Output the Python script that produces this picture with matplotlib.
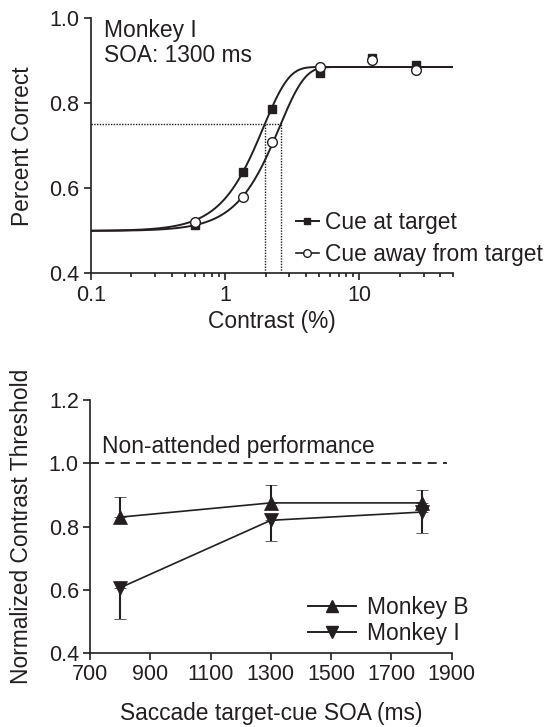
import numpy as np
import matplotlib
matplotlib.use("Agg")
import matplotlib.pyplot as plt

plt.rcParams['font.family'] = ['Liberation Sans', 'DejaVu Sans']
INK = '#231f20'
plt.rcParams['text.color'] = INK
plt.rcParams['axes.labelcolor'] = INK
plt.rcParams['xtick.color'] = INK
plt.rcParams['ytick.color'] = INK
plt.rcParams['axes.edgecolor'] = INK

# ---- top panel data ----
contrast = [0.60, 1.36, 2.24, 5.05, 12.5, 26.4]
pc_at_target = [0.514, 0.639, 0.787, 0.871, 0.905, 0.890]
pc_away = [0.522, 0.579, 0.709, 0.885, 0.902, 0.879]
threshold_at = 1.97
threshold_away = 2.59
upper_asym = 0.885
chance = 0.5
criterion = 0.75
slope = 2.3

# ---- bottom panel data ----
soa = [800, 1300, 1800]
monkeyB = [0.830, 0.875, 0.875]
monkeyB_err = [0.065, 0.057, 0.041]
monkeyI = [0.607, 0.820, 0.846]
monkeyI_err = [0.098, 0.065, 0.067]

fig = plt.figure(figsize=(5.45, 7.27), dpi=100)

FS = 16.4
TFS = 15.5

# ---------- top ----------
ax1 = fig.add_axes([0.1664, 0.6238, 0.6655, 0.3514])

def weib(c, t):
    frac = (criterion - chance) / (upper_asym - chance)
    k = -np.log(1 - frac)
    alpha = t / k ** (1 / slope)
    return chance + (upper_asym - chance) * (1 - np.exp(-(c / alpha) ** slope))

cc = np.logspace(-1, np.log10(50), 400)
ax1.plot(cc, weib(cc, threshold_at), color=INK, lw=1.4)
ax1.plot(cc, weib(cc, threshold_away), color=INK, lw=1.4)

dot = (0, (1, 1))
ax1.plot([0.1, threshold_away], [criterion, criterion], color=INK, lw=1, ls=dot)
ax1.plot([threshold_at, threshold_at], [0.4, criterion], color=INK, lw=1, ls=dot)
ax1.plot([threshold_away, threshold_away], [0.4, criterion], color=INK, lw=1, ls=dot)

ax1.plot(contrast, pc_at_target, ls='none', marker='s', ms=6, color=INK, zorder=4)
ax1.plot(contrast, pc_away, ls='none', marker='o', ms=7, mfc='white', mec=INK, mew=1, zorder=5)

h1, = ax1.plot([], [], '-', marker='s', ms=5, color=INK, lw=1.4)
h2, = ax1.plot([], [], '-', marker='o', ms=5.5, mfc='white', mec=INK, color=INK, lw=1.2)
ax1.legend([h1, h2], ['Cue at target', 'Cue away from target'], loc='center left',
           bbox_to_anchor=(0.565, 0.137), frameon=False, fontsize=FS,
           handlelength=1.02, handletextpad=0.26, borderpad=0, borderaxespad=0,
           labelspacing=0.38)

ax1.set_xscale('log')
ax1.set_xlim(0.1, 50)
ax1.set_ylim(0.4, 1.0)
ax1.set_yticks([0.4, 0.6, 0.8, 1.0])
ax1.set_yticklabels(['0.4', '0.6', '0.8', '1.0'])
ax1.set_xticks([0.1, 1, 10])
ax1.set_xticklabels(['0.1', '1', '10'])
ax1.spines['top'].set_visible(False)
ax1.spines['right'].set_visible(False)
for s in ax1.spines.values():
    s.set_linewidth(1.2)
ax1.tick_params(axis='both', which='major', labelsize=TFS, length=5, width=1.2, pad=3)
ax1.tick_params(axis='x', which='minor', length=3, width=1.2)
ax1.set_xlabel('Contrast (%)', fontsize=FS, labelpad=3)
ax1.set_ylabel('Percent Correct', fontsize=FS, labelpad=11)
ax1.text(0.126, 0.997, 'Monkey I\nSOA: 1300 ms', fontsize=FS, va='top', ha='left',
         linespacing=1.1)

# ---------- bottom ----------
ax2 = fig.add_axes([0.1651, 0.1014, 0.6637, 0.3484])
ax2.hlines(1.0, 700, 1885, colors=INK, linestyles=(0, (5, 3.5)), lw=1.3)
ax2.text(739, 1.032, 'Non-attended performance', fontsize=FS, ha='left', va='baseline')

ax2.errorbar(soa, monkeyB, yerr=[np.zeros(3), monkeyB_err], color=INK, lw=1.2,
             marker='^', ms=9.5, mec=INK, mew=0.5, capsize=4.5, capthick=1.5,
             elinewidth=1.5, zorder=4)
ax2.errorbar(soa, monkeyI, yerr=[monkeyI_err, np.zeros(3)], color=INK, lw=1.2,
             marker='v', ms=9.5, mec=INK, mew=0.5, capsize=4.5, capthick=1.5,
             elinewidth=1.5, zorder=4)

hb, = ax2.plot([], [], '-', marker='^', ms=8, color=INK, lw=1.4)
hi, = ax2.plot([], [], '-', marker='v', ms=8, color=INK, lw=1.4)
ax2.legend([hb, hi], ['Monkey B', 'Monkey I'], loc='center left',
           bbox_to_anchor=(0.6036, 0.131), frameon=False, fontsize=FS,
           handlelength=2.1, handletextpad=0.46, borderpad=0, borderaxespad=0,
           labelspacing=0.14)

ax2.set_xlim(700, 1900)
ax2.set_ylim(0.4, 1.2)
ax2.set_xticks([700, 900, 1100, 1300, 1500, 1700, 1900])
ax2.set_yticks([0.4, 0.6, 0.8, 1.0, 1.2])
ax2.set_yticklabels(['0.4', '0.6', '0.8', '1.0', '1.2'])
ax2.spines['top'].set_visible(False)
ax2.spines['right'].set_visible(False)
for s in ax2.spines.values():
    s.set_linewidth(1.2)
ax2.tick_params(axis='both', which='major', labelsize=TFS, length=5, width=1.2, pad=3)
ax2.set_xlabel('Saccade target-cue SOA (ms)', fontsize=FS, labelpad=12)
ax2.set_ylabel('Normalized Contrast Threshold', fontsize=FS, labelpad=11)

fig.savefig('out.png', dpi=100)
